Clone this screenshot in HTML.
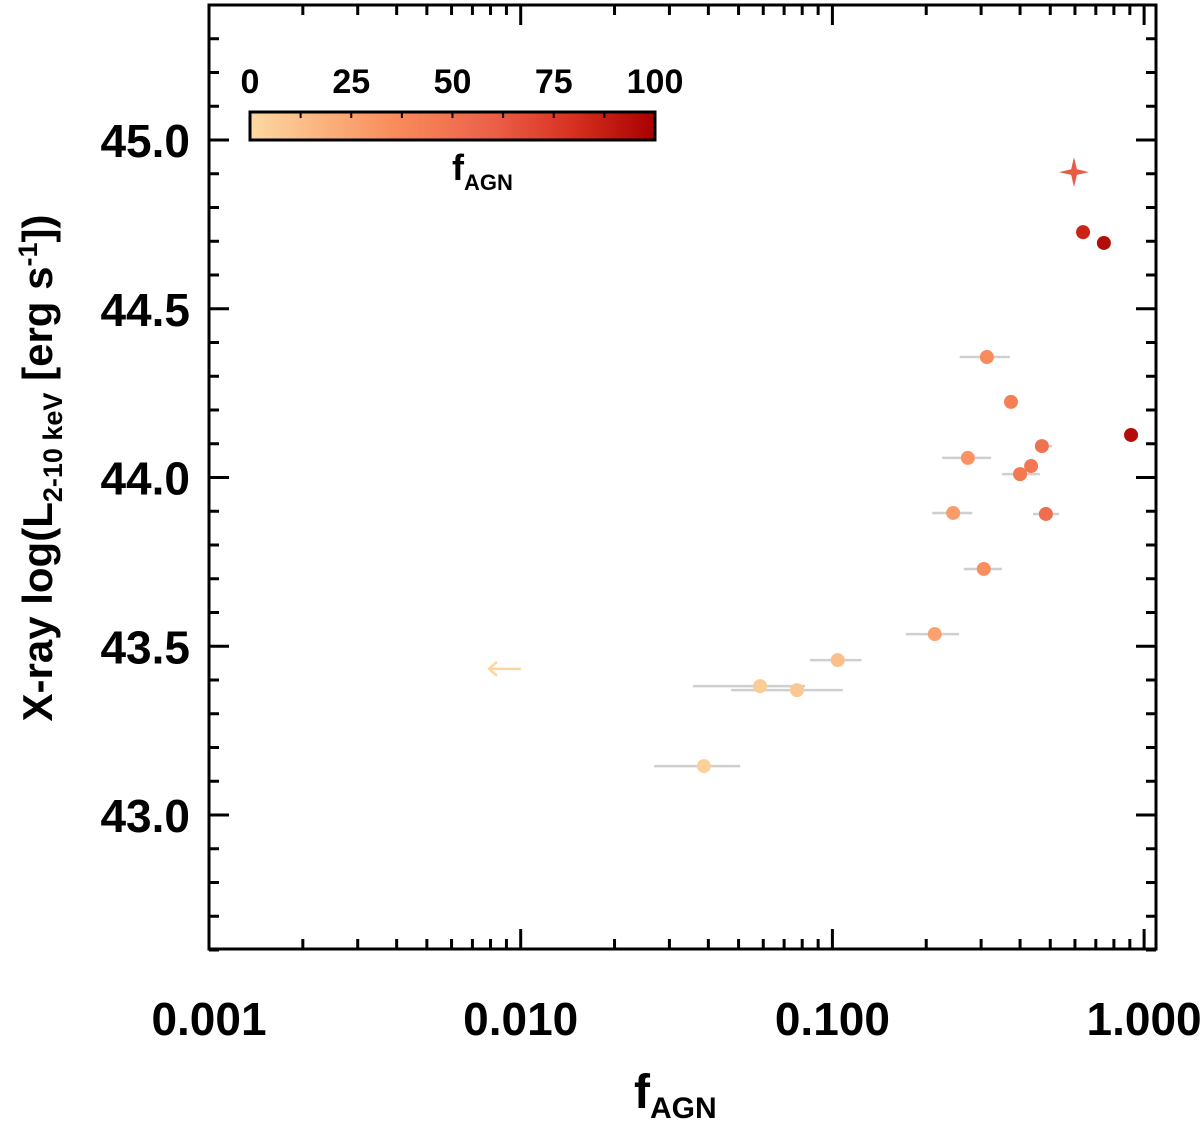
<!DOCTYPE html>
<html><head><meta charset="utf-8"><style>
html,body{margin:0;padding:0;background:#fff;}
svg{display:block;font-family:"Liberation Sans",sans-serif;}
</style></head><body>
<svg id="chart" width="1200" height="1121" viewBox="0 0 1200 1121" xmlns="http://www.w3.org/2000/svg">
<defs>
<linearGradient id="cmap" x1="0" x2="1" y1="0" y2="0">
<stop offset="0" stop-color="#fdd9a2"/><stop offset="0.35" stop-color="#f98d5c"/><stop offset="0.6" stop-color="#ec6048"/><stop offset="0.8" stop-color="#d7301f"/><stop offset="1" stop-color="#a80000"/>
</linearGradient>
</defs>
<g id="errs"></g>
<g id="pts"></g>
<g id="axes"></g>
<rect x="209" y="5" width="947" height="944" fill="none" stroke="#000" stroke-width="3"/>
<g>
<rect x="250" y="112" width="405" height="28" fill="url(#cmap)" stroke="#000" stroke-width="3"/>
<g id="cbticks"></g>
<text x="452" y="180" font-size="36" font-weight="bold">f<tspan font-size="22" dy="10">AGN</tspan></text>
</g>
<text x="634" y="1108" font-size="48" font-weight="bold">f<tspan font-size="30" dy="10">AGN</tspan></text>
<text transform="translate(52,468) rotate(-90)" font-size="42" font-weight="bold" text-anchor="middle">X-ray log(L<tspan font-size="27" dy="10">2-10 keV</tspan><tspan dy="-10"> [erg s</tspan><tspan font-size="27" dy="-15">-1</tspan><tspan dy="15">])</tspan></text>
</svg>
<script>
const xVals=[0.313,0.374,0.743,0.637,0.908,0.272,0.470,0.434,0.400,0.244,0.484,0.306,0.213,0.104,0.0586,0.0770,0.0387];
const yVals=[44.357,44.224,44.695,44.727,44.126,44.058,44.093,44.034,44.010,43.895,43.892,43.729,43.536,43.459,43.382,43.370,43.145];
const cVals=[36,42,95,85,95,32,50,47,46,28,52,34,26,12,6,8,4];
const xLo=[0.256,null,null,null,null,0.225,0.447,null,0.350,0.209,0.440,0.264,0.172,0.0847,0.0357,0.0473,0.0268];
const xHi=[0.371,null,null,null,null,0.323,0.507,null,0.463,0.281,0.533,0.350,0.255,0.124,0.0817,0.108,0.0506];
const starX=[0.596], starY=[44.905], starC=[62];
const limX=[0.0089], limY=[43.433], limC=[2];
const xTickVals=[0.001,0.01,0.1,1];
const xTickLabels=["0.001","0.010","0.100","1.000"];
const yTickVals=[43.0,43.5,44.0,44.5,45.0];
const yTickLabels=["43.0","43.5","44.0","44.5","45.0"];
const cbTickLabels=["0","25","50","75","100"];

const NS="http://www.w3.org/2000/svg";
const X0=209,X1=1156,Y0=949,Y1=5;
const xmin=-3,dec=311.7;
function xs(v){return X0+(Math.log10(v)-xmin)*dec;}
function ys(v){return 140+(45-v)*337.5;}
function mk(t,a,p){const e=document.createElementNS(NS,t);for(const k in a)e.setAttribute(k,a[k]);p.appendChild(e);return e;}
function hex(c){return [parseInt(c.slice(1,3),16),parseInt(c.slice(3,5),16),parseInt(c.slice(5,7),16)];}
const stops=[[0,"#fdd9a2"],[0.35,"#f98d5c"],[0.6,"#ec6048"],[0.8,"#d7301f"],[1,"#a80000"]];
function cmap(f){f=Math.max(0,Math.min(1,f));for(let i=0;i<stops.length-1;i++){if(f<=stops[i+1][0]){const t=(f-stops[i][0])/(stops[i+1][0]-stops[i][0]);const a=hex(stops[i][1]),b=hex(stops[i+1][1]);return "rgb("+a.map((v,j)=>Math.round(v+(b[j]-v)*t)).join(",")+")";}}return stops[4][1];}

const errs=document.getElementById('errs'),pts=document.getElementById('pts'),axes=document.getElementById('axes');
for(let i=0;i<xVals.length;i++){
  if(xLo[i]!==null){
    const l=mk('line',{x1:xs(xLo[i]),x2:xs(xHi[i]),y1:ys(yVals[i]),y2:ys(yVals[i]),stroke:'#cfcfcf','stroke-width':2.5},errs);
    
    
  }
  const c=mk('circle',{cx:xs(xVals[i]),cy:ys(yVals[i]),r:7,fill:cmap(cVals[i]/100)},pts);
  
  
}
for(let i=0;i<starX.length;i++){
  const cx=xs(starX[i]),cy=ys(starY[i]),R=15,r=4;
  let d="";for(let k=0;k<8;k++){const ang=k*Math.PI/4-Math.PI/2;const rr=k%2?r:R;d+=(k?"L":"M")+(cx+rr*Math.cos(ang)).toFixed(1)+","+(cy+rr*Math.sin(ang)).toFixed(1);}
  const s=mk('path',{d:d+"Z",fill:cmap(starC[i]/100)},pts);
  
  
}
for(let i=0;i<limX.length;i++){
  const cx=xs(limX[i]),cy=ys(limY[i]);const col=cmap(limC[i]/100);
  const g=mk('g',{stroke:col,'stroke-width':2.5,fill:'none'},pts);
  
  
  mk('line',{x1:cx-16,x2:cx+16,y1:cy,y2:cy},g);
  mk('polyline',{points:(cx-8)+","+(cy-7)+" "+(cx-16)+","+cy+" "+(cx-8)+","+(cy+7)},g);
}
for(let d=-3;d<=0;d++){for(let m=1;m<10;m++){const v=m*Math.pow(10,d);const x=xs(v);if(x>X1)continue;const L=m===1?20:10;
  mk('line',{x1:x,x2:x,y1:Y0,y2:Y0-L,stroke:'#000','stroke-width':3},axes);
  mk('line',{x1:x,x2:x,y1:Y1,y2:Y1+L,stroke:'#000','stroke-width':3},axes);}}
xTickVals.forEach((v,i)=>{const t=mk('text',{x:xs(v),y:1035,'font-size':46,'font-weight':'bold','text-anchor':'middle'},axes);t.textContent=xTickLabels[i];
  
  });
for(let k=0;k<=30;k++){const v=42.6+k*0.1;const y=ys(v);if(y<Y1-1||y>Y0+1)continue;const major=Math.abs(v*2-Math.round(v*2))<1e-6;const L=major?20:10;
  mk('line',{x1:X0,x2:X0+L,y1:y,y2:y,stroke:'#000','stroke-width':3},axes);
  mk('line',{x1:X1,x2:X1-L,y1:y,y2:y,stroke:'#000','stroke-width':3},axes);}
yTickVals.forEach((v,i)=>{const t=mk('text',{x:190,y:ys(v)+17,'font-size':46,'font-weight':'bold','text-anchor':'end'},axes);t.textContent=yTickLabels[i];
  
  });
const cb=document.getElementById('cbticks');
for(let k=1;k<8;k++){const x=250+k*405/8;mk('line',{x1:x,x2:x,y1:112,y2:118,stroke:'#000','stroke-width':2},cb);}
cbTickLabels.forEach((s,i)=>{const t=mk('text',{x:250+i*405/4,y:93,'font-size':34,'font-weight':'bold','text-anchor':'middle'},cb);t.textContent=s;
  
  });
</script>
</body></html>
